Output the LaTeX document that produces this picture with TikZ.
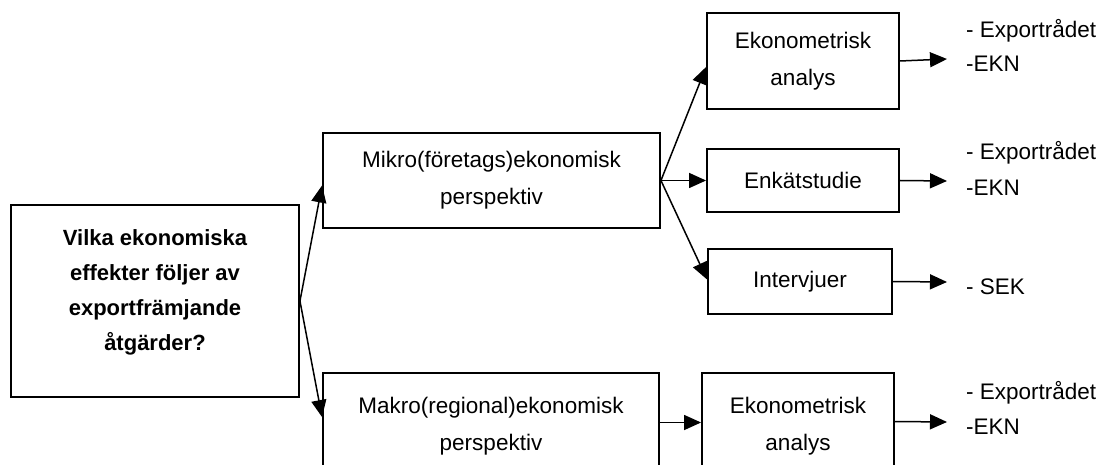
\documentclass[tikz,border=0pt]{standalone}
\usepackage{fontspec}
\setmainfont{Liberation Sans}
\usetikzlibrary{arrows.meta}
\tikzset{
  box/.style={draw=black, line width=1.9pt, inner sep=0pt, align=center,
    font=\fontsize{22.5}{37}\selectfont},
  arr/.style={line width=1.5pt, -{Triangle[length=17pt,width=15pt]}},
  lbl/.style={anchor=west, inner sep=0pt, font=\fontsize{22.5}{37}\selectfont}
}
\begin{document}
\begin{tikzpicture}[x=1pt,y=-1pt]
\useasboundingbox (0,0) rectangle (1101,465);
\clip (0,0) rectangle (1101,465);
\fill[white] (0,0) rectangle (1101,465);
\node[box, minimum width=288pt, minimum height=192pt] (main) at (155,301) {};
\node[align=center, inner sep=0pt, font=\fontsize{22}{35}\selectfont\bfseries]
  (maintext) at (155,292)
  {Vilka ekonomiska\\effekter följer av\\exportfrämjande\\åtgärder?};
\node[box, minimum width=337pt, minimum height=95pt] (micro) at (491.5,180.5)
  {Mikro(företags)ekonomisk\\perspektiv};
\node[box, minimum width=336pt, minimum height=107pt] (macro) at (491,426.5)
  {Makro(regional)ekonomisk\\perspektiv};
\node[box, minimum width=192pt, minimum height=96pt] (eko1) at (803,61)
  {Ekonometrisk\\analys};
\node[box, minimum width=192pt, minimum height=63pt] (enk) at (803,180.5)
  {Enkätstudie};
\node[box, minimum width=184pt, minimum height=65pt] (int) at (800,281.5)
  {Intervjuer};
\node[box, minimum width=192pt, minimum height=107pt] (eko2) at (798,426.5)
  {Ekonometrisk\\analys};
\coordinate (t1) at (947,59);
\coordinate (t2) at (947,181);
\coordinate (t3) at (947,282);
\coordinate (t4) at (947,422);
\node[lbl] (l1a) at (966,31) {- Exportrådet};
\node[lbl] (l1b) at (966,64) {-EKN};
\node[lbl] (l2a) at (966,153) {- Exportrådet};
\node[lbl] (l2b) at (966,188) {-EKN};
\node[lbl] (l3) at (966,287) {- SEK};
\node[lbl] (l4a) at (966,393) {- Exportrådet};
\node[lbl] (l4b) at (966,427) {-EKN};
\draw[arr] (main.east) -- ([yshift=-5pt]micro.west);
\draw[arr] (main.east) -- ([yshift=-45pt]macro.north west);
\draw[arr] (micro.east) -- ([yshift=-6pt]eko1.west);
\draw[arr] (micro.east) -- (enk.west);
\draw[arr] (micro.east) -- ([yshift=2pt]int.west);
\draw[arr] ([yshift=4pt]macro.east) -- ([yshift=4pt]macro.east -| eko2.west);
\draw[arr] (eko1.east) -- (t1);
\draw[arr] (enk.east) -- (t2);
\draw[arr] (int.east) -- (t3);
\draw[arr] ([yshift=5pt]eko2.east) -- (t4);
\end{tikzpicture}
\end{document}
